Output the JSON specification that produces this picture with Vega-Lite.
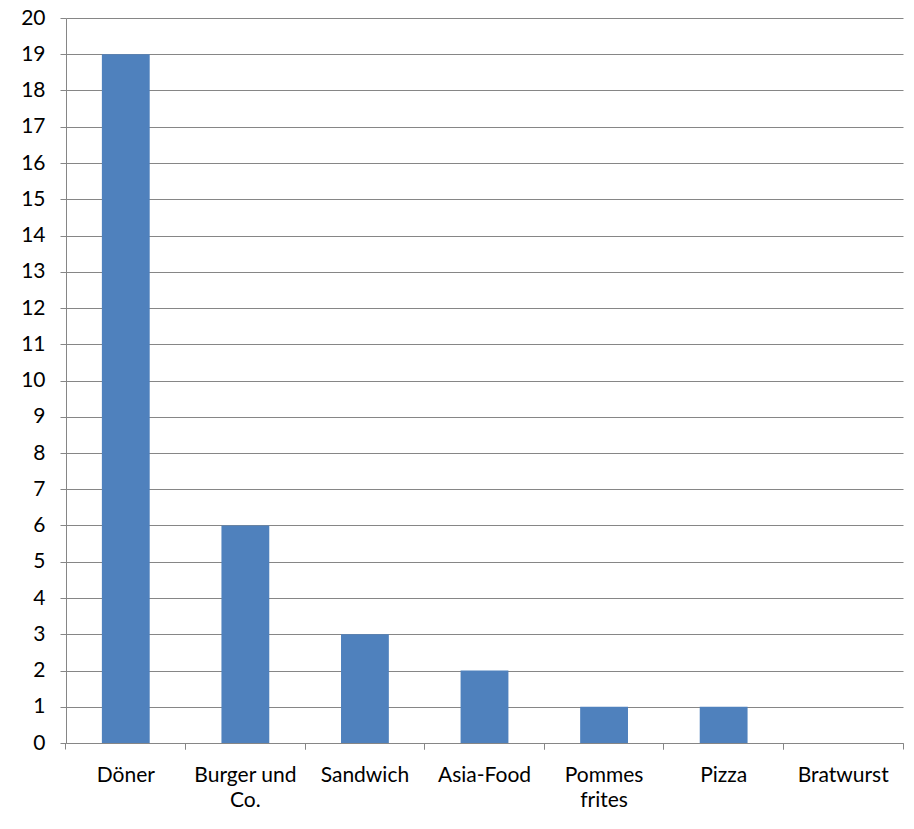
{
  "$schema": "https://vega.github.io/schema/vega-lite/v6.json",
  "width": 837,
  "height": 725,
  "autosize": {"type": "none"},
  "padding": {"left": 66, "top": 18, "right": 11, "bottom": 86},
  "background": "white",
  "config": {
    "view": {"stroke": null},
    "font": "Lato",
    "axis": {"labelFont": "Lato", "labelFontSize": 21, "labelColor": "black", "domainColor": "#868686", "tickColor": "#868686", "gridColor": "#868686", "tickSize": 6, "domainWidth": 1, "tickWidth": 1, "gridWidth": 1, "labelOverlap": false}
  },
  "data": {"values": [
    {"food": "Döner", "count": 19},
    {"food": "Burger und Co.", "count": 6},
    {"food": "Sandwich", "count": 3},
    {"food": "Asia-Food", "count": 2},
    {"food": "Pommes frites", "count": 1},
    {"food": "Pizza", "count": 1},
    {"food": "Bratwurst", "count": 0}
  ]},
  "layer": [
    {
      "mark": {"type": "bar", "color": "#4F81BD"},
      "encoding": {
        "x": {"field": "food", "type": "nominal", "sort": null,
              "scale": {"paddingInner": 0.6, "paddingOuter": 0.3},
              "axis": {"title": null, "labelAngle": 0, "labelPadding": 15, "bandPosition": -0.75, "labelBaseline": "top",
                       "labelExpr": "datum.label == 'Burger und Co.' ? ['Burger und', 'Co.'] : datum.label == 'Pommes frites' ? ['Pommes', 'frites'] : datum.label",
                       "labelLineHeight": 25, "labelOffset": 0}},
        "y": {"field": "count", "type": "quantitative",
              "scale": {"domain": [0, 20], "nice": false},
              "axis": {"title": null, "values": [0,1,2,3,4,5,6,7,8,9,10,11,12,13,14,15,16,17,18,19,20], "labelOverlap": false, "labelPadding": 15, "grid": true}}
      }
    },
    {
      "mark": {"type": "bar", "opacity": 0},
      "encoding": {
        "x": {"field": "food", "type": "nominal", "sort": null,
              "axis": {"orient": "bottom", "title": null, "labels": false, "domain": false, "bandPosition": 1.75}}
      }
    }
  ],
  "resolve": {"axis": {"x": "independent", "y": "shared"}}
}
